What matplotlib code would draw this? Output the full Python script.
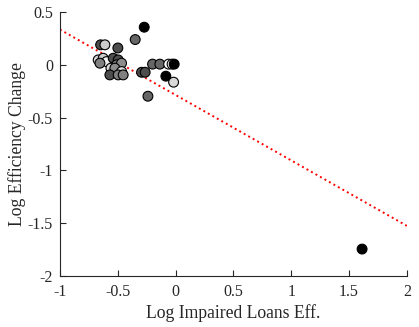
import numpy as np
import matplotlib
matplotlib.use('Agg')
import matplotlib.pyplot as plt

plt.rcParams['font.family'] = ['Liberation Serif', 'DejaVu Serif']

# scatter data (log impaired loans eff., log efficiency change, gray level)
x = [-0.271, -0.349, -0.648, -0.611, -0.499,
     -0.669, -0.626, -0.597, -0.654, -0.539, -0.496, -0.51, -0.467,
     -0.559, -0.525, -0.467, -0.568, -0.496, -0.453,
     -0.199, -0.136, -0.06, -0.03, -0.012,
     -0.294, -0.263, -0.084, -0.017, -0.239, 1.613]
y = [0.357, 0.24, 0.19, 0.19, 0.16,
     0.047, 0.063, 0.031, 0.016, 0.063, 0.047, 0.0, 0.016,
     -0.031, -0.031, -0.063, -0.095, -0.095, -0.095,
     0.007, 0.007, 0.007, 0.007, 0.007,
     -0.07, -0.07, -0.107, -0.164, -0.297, -1.745]
gray = [0.0, 0.4, 0.3, 0.8, 0.3,
        0.85, 0.8, 0.95, 0.5, 0.3, 0.3, 0.5, 0.55,
        0.85, 0.55, 0.85, 0.3, 0.5, 0.5,
        0.4, 0.4, 1.0, 1.0, 0.0,
        0.3, 0.3, 0.0, 0.85, 0.4, 0.0]

# fitted line
fit_x = [-1, 2]
fit_y = [0.335, -1.525]

fig = plt.figure(figsize=(4.19, 3.27), dpi=100)
ax = fig.add_axes([0.143, 0.156, 0.828, 0.807])

ax.scatter(x, y, s=50, c=[(g, g, g) for g in gray], edgecolors='black',
           linewidths=0.8, zorder=3)
ax.plot(fit_x, fit_y, color='red', linestyle=':', linewidth=1.4, zorder=2)

ax.set_xlim(-1, 2)
ax.set_ylim(-2, 0.5)
ax.set_xticks([-1, -0.5, 0, 0.5, 1, 1.5, 2])
ax.set_xticklabels(['-1', '-0.5', '0', '0.5', '1', '1.5', '2'])
ax.set_yticks([-2, -1.5, -1, -0.5, 0, 0.5])
ax.set_yticklabels(['-2', '-1.5', '-1', '-0.5', '0', '0.5'])
ax.spines['top'].set_visible(False)
ax.spines['right'].set_visible(False)
for s in ['left', 'bottom']:
    ax.spines[s].set_color('#262626')
    ax.spines[s].set_linewidth(0.8)
ax.tick_params(direction='in', length=4, width=0.8, colors='#262626',
               labelsize=11.5)
ax.tick_params(axis='x', pad=6)
ax.tick_params(axis='y', pad=5)
ax.set_xlabel('Log Impaired Loans Eff.', fontsize=12.7, color='#262626',
              labelpad=3)
ax.set_ylabel('Log Efficiency Change', fontsize=12.7, color='#262626',
              labelpad=1)

fig.savefig('out.png', dpi=100)
